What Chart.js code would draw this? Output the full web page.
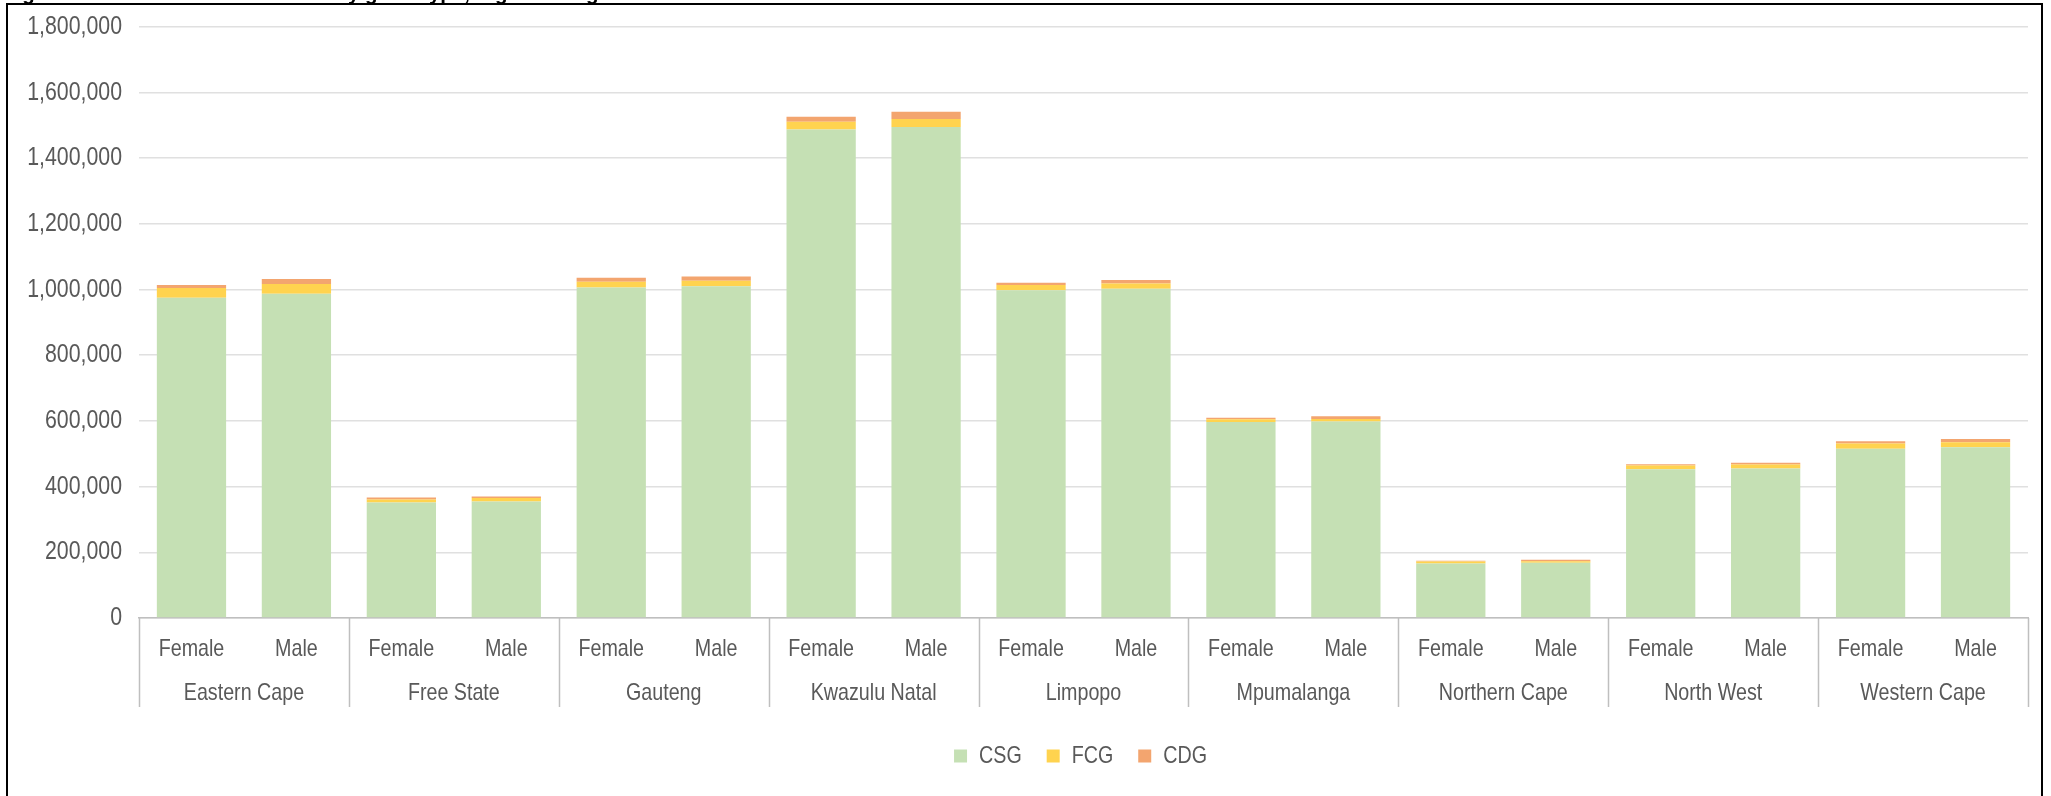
<!DOCTYPE html>
<html>
<head>
<meta charset="utf-8">
<script src="https://cdn.jsdelivr.net/npm/chart.js@4/dist/chart.umd.min.js"></script>
<style>
  html, body { margin: 0; padding: 0; background: #fff; overflow: hidden; }
  #wrap { position: absolute; left: 0; top: 0; width: 2051px; height: 796px; }
  #frame { position: absolute; left: 6px; top: 3px; width: 2033px; height: 900px; border: 2px solid #000; pointer-events: none; }
  #title { position: absolute; left: 4px; top: -17px; font: bold 20.5px "Liberation Sans", Arial, sans-serif; line-height: 20px; color: #000; white-space: nowrap; }
</style>
</head>
<body>
<div id="wrap"><canvas id="c" width="2051" height="796"></canvas></div>
<div id="title">Figure 5: Number of beneficiaries by grant type, region and gender</div>
<div id="frame"></div>
<script>
const provinces = ['Eastern Cape', 'Free State', 'Gauteng', 'Kwazulu Natal', 'Limpopo', 'Mpumalanga', 'Northern Cape', 'North West', 'Western Cape'];
const genders = ['Female', 'Male'];
const seriesNames = ['CSG', 'FCG', 'CDG'];
// values in order: province x gender (Female, Male)
const csg = [975000, 987000, 352000, 355000, 1006000, 1010000, 1487000, 1495000, 998000, 1002000, 597000, 598000, 166000, 168000, 453000, 455000, 515000, 520000];
const fcg = [30000, 30000, 9000, 10000, 18000, 17000, 24000, 24000, 16000, 16000, 8000, 8000, 6000, 5000, 11000, 12000, 16000, 15000];
const cdg = [9000, 15000, 6000, 5000, 12000, 13000, 15000, 22000, 7000, 11000, 5000, 8000, 2000, 4000, 4000, 6000, 7000, 10000];
const yTicksMax = 1800000;
const yTickStep = 200000;

const colors = ['#C5E0B4', '#FFD34F', '#F3A56F'];
const FONT = "'Liberation Sans', Arial, sans-serif";
const TEXT = '#595959';
const SX = 0.82; // narrow (condensed) text rendering

const canvas = document.getElementById('c');
const ctx2d = canvas.getContext('2d');
const origFill = ctx2d.fillText;
const origMeasure = ctx2d.measureText;
ctx2d.fillText = function (text, x, y, maxWidth) {
  this.save();
  this.translate(x, y);
  this.scale(SX, 1);
  if (maxWidth === undefined) origFill.call(this, text, 0, 0);
  else origFill.call(this, text, 0, 0, maxWidth / SX);
  this.restore();
};
ctx2d.measureText = function (text) {
  const m = origMeasure.call(this, text);
  return {
    width: m.width * SX,
    actualBoundingBoxAscent: m.actualBoundingBoxAscent,
    actualBoundingBoxDescent: m.actualBoundingBoxDescent,
    actualBoundingBoxLeft: m.actualBoundingBoxLeft * SX,
    actualBoundingBoxRight: m.actualBoundingBoxRight * SX
  };
};

const labels = [];
provinces.forEach(() => genders.forEach(g => labels.push(g)));

const groupPlugin = {
  id: 'groupLabels',
  afterLayout(chart) {
    const lg = chart.legend;
    if (lg) { lg.left = chart.chartArea.left - 3; lg.right = chart.chartArea.right - 3; }
  },
  afterDraw(chart) {
    const x = chart.scales.x;
    const ctx = chart.ctx;
    const n = genders.length;
    const half = (x.getPixelForTick(1) - x.getPixelForTick(0)) / 2;
    ctx.save();
    ctx.strokeStyle = '#BFBFBF';
    ctx.lineWidth = 1.5;
    for (let i = 0; i <= provinces.length; i++) {
      let px;
      if (i < provinces.length) px = x.getPixelForTick(i * n) - half;
      else px = x.getPixelForTick(i * n - 1) + half;
      ctx.beginPath();
      ctx.moveTo(Math.round(px) + 0.5, x.top);
      ctx.lineTo(Math.round(px) + 0.5, x.top + 89);
      ctx.stroke();
    }
    ctx.fillStyle = TEXT;
    ctx.font = '24px ' + FONT;
    ctx.textAlign = 'center';
    ctx.textBaseline = 'middle';
    provinces.forEach((p, i) => {
      const cx = (x.getPixelForTick(i * n) + x.getPixelForTick(i * n + n - 1)) / 2;
      ctx.fillText(p, cx, x.top + 75);
    });
    ctx.restore();
  }
};

new Chart(ctx2d, {
  type: 'bar',
  data: {
    labels: labels,
    datasets: [
      { label: seriesNames[0], data: csg, backgroundColor: colors[0] },
      { label: seriesNames[1], data: fcg, backgroundColor: colors[1] },
      { label: seriesNames[2], data: cdg, backgroundColor: colors[2] }
    ]
  },
  options: {
    responsive: false,
    animation: false,
    layout: { padding: { left: 0, right: 23, top: 0, bottom: 18 } },
    datasets: { bar: { categoryPercentage: 1, barPercentage: 0.66 } },
    scales: {
      x: {
        stacked: true,
        grid: { display: false, drawTicks: false },
        border: { display: true, color: '#BFBFBF', width: 1.5 },
        ticks: { color: TEXT, font: { family: FONT, size: 24 }, padding: 17, maxRotation: 0, autoSkip: false },
        afterFit(s) { s.height = 101; }
      },
      y: {
        stacked: true,
        min: 0,
        max: yTicksMax,
        grid: { color: '#E0E0E0', lineWidth: 1.5, drawTicks: false },
        border: { display: false },
        ticks: {
          stepSize: yTickStep, color: TEXT, padding: 17,
          font: { family: FONT, size: 26, lineHeight: 0.75 },
          callback: v => v.toLocaleString('en-US')
        },
        afterFit(s) { s.width = 139; }
      }
    },
    plugins: {
      legend: {
        position: 'bottom',
        labels: { color: TEXT, font: { family: FONT, size: 24 }, boxWidth: 13, boxHeight: 13, padding: 25 }
      },
      tooltip: { enabled: false }
    }
  },
  plugins: [groupPlugin]
});
</script>
</body>
</html>
